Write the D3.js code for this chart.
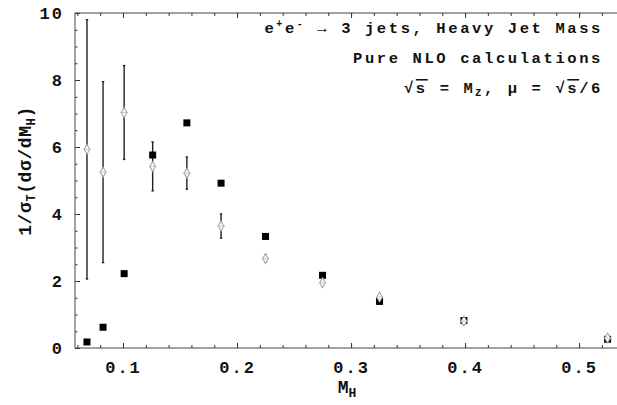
<!DOCTYPE html>
<html>
<head>
<meta charset="utf-8">
<script src="https://cdn.jsdelivr.net/npm/d3@7"></script>
<style>
  body { margin: 0; background: #fff; }
  svg text { font-family: "Liberation Mono", "Courier New", monospace; font-weight: bold; fill: #111; }
  .axis path { display: none; }
  .axis line { stroke: #333; stroke-width: 1; }
  .axis text { font-size: 17px; letter-spacing: 2px; }
</style>
</head>
<body>
<script>

// bin centres in M_H
var mh = [0.0684, 0.0825, 0.101, 0.126, 0.156, 0.186, 0.225, 0.275, 0.325, 0.399, 0.525];
// black squares
var nloSquares = [0.18, 0.62, 2.22, 5.76, 6.72, 4.92, 3.33, 2.17, 1.39, 0.82, 0.26];
// grey markers with error bars
var nloMarkers = [5.93, 5.25, 7.03, 5.42, 5.22, 3.64, 2.67, 1.95, 1.52, 0.80, 0.30];
var markerErr  = [3.87, 2.70, 1.40, 0.73, 0.48, 0.36, 0.10, 0.08, 0.06, 0.05, 0.05];

var xTicks = [0.1, 0.2, 0.3, 0.4, 0.5];
var yTicks = [0, 2, 4, 6, 8, 10];

var totalWidth = 617, totalHeight = 405;
var margin = {top: 13, right: -2, bottom: 57, left: 75};
var width = totalWidth - margin.left - margin.right;
var height = totalHeight - margin.top - margin.bottom;

var scaleX = d3.scaleLinear().domain([0.0579, 0.535]).range([0, width]);
var scaleY = d3.scaleLinear().domain([0, 10]).range([height, 0]);

var svg = d3.select("body").append("svg")
  .attr("width", totalWidth)
  .attr("height", totalHeight);

var chart = svg.append("g")
  .attr("transform", "translate(" + margin.left + "," + margin.top + ")");

// minor ticks
var xMinor = d3.range(0.06, 0.535, 0.02);
var yMinor = d3.range(0, 10.01, 0.5);

chart.append("g").attr("class", "axis")
  .attr("transform", "translate(0," + height + ")")
  .call(d3.axisBottom(scaleX).tickValues(xMinor).tickSize(-3).tickFormat(""));
chart.append("g").attr("class", "axis")
  .call(d3.axisTop(scaleX).tickValues(xMinor).tickSize(-3).tickFormat(""));
chart.append("g").attr("class", "axis")
  .call(d3.axisLeft(scaleY).tickValues(yMinor).tickSize(-2.5).tickFormat(""));

// major ticks + labels
chart.append("g").attr("class", "axis")
  .attr("transform", "translate(0," + height + ")")
  .call(d3.axisBottom(scaleX).tickValues(xTicks).tickSize(-5).tickPadding(13).tickFormat(d3.format(".1f")));
chart.append("g").attr("class", "axis")
  .call(d3.axisTop(scaleX).tickValues(xTicks).tickSize(-5).tickFormat(""));
chart.append("g").attr("class", "axis")
  .call(d3.axisLeft(scaleY).tickValues(yTicks).tickSize(-5).tickPadding(11).tickFormat(d3.format("d")));

// frame
chart.append("rect")
  .attr("width", width)
  .attr("height", height)
  .attr("fill", "none")
  .attr("stroke", "#444")
  .attr("stroke-width", 1);

// error bars
var bars = chart.selectAll(".err")
  .data(mh.map(function(x, i) { return {x: x, y: nloMarkers[i], e: markerErr[i]}; }))
  .enter().append("g").attr("class", "err");

bars.append("line")
  .attr("x1", function(d) { return scaleX(d.x); })
  .attr("x2", function(d) { return scaleX(d.x); })
  .attr("y1", function(d) { return scaleY(d.y + d.e); })
  .attr("y2", function(d) { return scaleY(d.y - d.e); })
  .attr("stroke", "#222")
  .attr("stroke-width", 1.4);

bars.selectAll(".cap")
  .data(function(d) { return [[d.x, d.y + d.e], [d.x, d.y - d.e]]; })
  .enter().append("line")
  .attr("x1", function(d) { return scaleX(d[0]) - 1.2; })
  .attr("x2", function(d) { return scaleX(d[0]) + 1.2; })
  .attr("y1", function(d) { return scaleY(d[1]); })
  .attr("y2", function(d) { return scaleY(d[1]); })
  .attr("stroke", "#222")
  .attr("stroke-width", 1.4);

// squares
chart.selectAll(".sq")
  .data(mh.map(function(x, i) { return {x: x, y: nloSquares[i]}; }))
  .enter().append("rect")
  .attr("class", "sq")
  .attr("x", function(d) { return scaleX(d.x) - 3.5; })
  .attr("y", function(d) { return scaleY(d.y) - 3.5; })
  .attr("width", 7)
  .attr("height", 7)
  .attr("fill", "#000");

// grey markers
var mk = chart.selectAll(".mk")
  .data(mh.map(function(x, i) { return {x: x, y: nloMarkers[i]}; }))
  .enter().append("g")
  .attr("class", "mk")
  .attr("transform", function(d) { return "translate(" + scaleX(d.x) + "," + scaleY(d.y) + ")"; });

mk.append("path")
  .attr("d", d3.symbol().type(d3.symbolDiamond).size(28))
  .attr("fill", "#fff")
  .attr("stroke", "#a8a8a8")
  .attr("stroke-width", 1.1);
mk.append("path")
  .attr("d", "M-4,0H4")
  .attr("stroke", "#b8b8b8")
  .attr("stroke-width", 0.8);

// axis titles
svg.append("text")
  .attr("x", margin.left + width / 2)
  .attr("y", 393)
  .attr("text-anchor", "middle")
  .style("font-size", "18px")
  .html('M<tspan font-size="13px" dy="4">H</tspan>');

svg.append("text")
  .attr("transform", "translate(31,171) rotate(-90)")
  .attr("text-anchor", "middle")
  .style("font-size", "18px")
  .style("letter-spacing", "0.6px")
  .html('1/\u03c3<tspan font-size="12px" dy="4">T</tspan><tspan dy="-4">(d\u03c3/dM</tspan><tspan font-size="12px" dy="4">H</tspan><tspan dy="-4">)</tspan>');

// annotation
var note = svg.append("g").style("font-size", "15.5px").style("letter-spacing", "2.6px");

note.append("text")
  .attr("x", 603).attr("y", 33)
  .attr("text-anchor", "end")
  .html('e<tspan font-size="10px" dy="-6">+</tspan><tspan dy="6">e</tspan><tspan font-size="10px" dy="-6">-</tspan><tspan dy="6"> \u2192 3 jets, Heavy Jet Mass</tspan>');

note.append("text")
  .attr("x", 603).attr("y", 63)
  .attr("text-anchor", "end")
  .text("Pure NLO calculations");

note.append("text")
  .attr("x", 603).attr("y", 93)
  .attr("text-anchor", "end")
  .html('\u221a<tspan style="text-decoration: overline">s</tspan> = M<tspan font-size="10px" dy="3">Z</tspan><tspan dy="-3">, \u03bc = \u221a</tspan><tspan style="text-decoration: overline">s</tspan>/6');

</script>
</body>
</html>
